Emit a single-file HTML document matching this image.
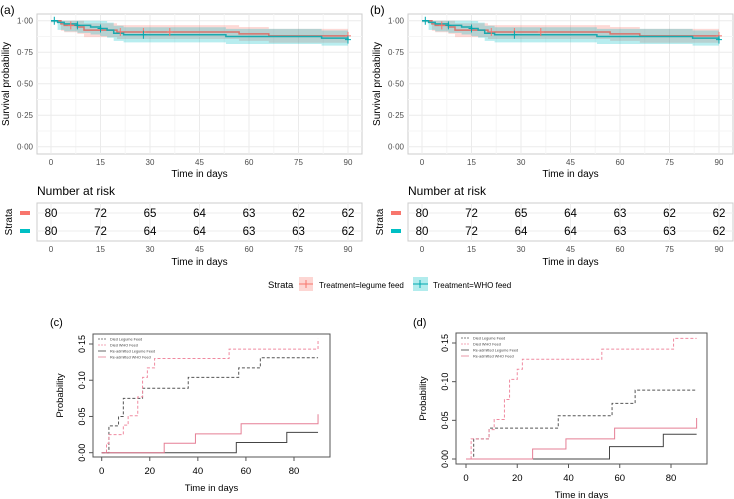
<!DOCTYPE html>
<html><head><meta charset="utf-8"><style>
body{margin:0;background:#fff}
svg{display:block;font-family:"Liberation Sans",sans-serif}
</style></head><body>
<svg id="fig" width="734" height="499" viewBox="0 0 734 499"></svg>
<script>
// ---- KM data (panels a,b) ----
const kmLegTimes=[0,3,4,8,10,20,57,66,90];
const kmLegSurv=[1,0.975,0.963,0.95,0.925,0.91,0.895,0.88,0.88];
const kmWhoTimes=[0,2,4,8,12,15,17,19,22,53,82,90];
const kmWhoSurv=[1,0.987,0.975,0.963,0.95,0.938,0.925,0.9,0.888,0.875,0.862,0.85];
const kmLegCens=[6,21,28,36,90];
const kmWhoCens=[1,8,15,28,90];
const riskTimes=[0,15,30,45,60,75,90];
const riskLeg=[80,72,65,64,63,62,62];
const riskWho=[80,72,64,64,63,63,62];
const xTicksKM=[0,15,30,45,60,75,90];
const yTicksKM=[0,0.25,0.5,0.75,1];
// ---- cumulative incidence (c) ----
const cDiedLegT=[0,3,7,9,17,36,57,66,90];
const cDiedLegV=[0,0.037,0.05,0.075,0.089,0.104,0.117,0.131,0.131];
const cDiedWhoT=[0,2,3,9,11,15,17,19,22,53,90];
const cDiedWhoV=[0,0.013,0.025,0.038,0.051,0.077,0.104,0.117,0.13,0.143,0.157];
const cReLegT=[0,56,77,90];
const cReLegV=[0,0.014,0.028,0.028];
const cReWhoT=[0,26,39,58,90];
const cReWhoV=[0,0.013,0.026,0.04,0.053];
// ---- (d) ----
const dDiedLegT=[0,3,9,36,57,66,90];
const dDiedLegV=[0,0.026,0.04,0.056,0.072,0.089,0.089];
const dDiedWhoT=[0,2,9,11,15,17,20,22,53,81,90];
const dDiedWhoV=[0,0.026,0.038,0.051,0.077,0.103,0.116,0.129,0.142,0.156,0.156];
const dReLegT=[0,56,77,90];
const dReLegV=[0,0.016,0.032,0.032];
const dReWhoT=[0,26,39,58,90];
const dReWhoV=[0,0.013,0.026,0.04,0.053];
const ciXTicks=[0,20,40,60,80];
const ciYTicks=[0,0.05,0.1,0.15];
const ciYLabels=["0·00","0·05","0·10","0·15"];
const legendNames=["Died Legume Feed","Died WHO Feed","Re-admitted Legume Feed","Re-admitted WHO Feed"];

const NS="http://www.w3.org/2000/svg";
const svg=document.getElementById('fig');
function el(tag,attrs,parent,text){const e=document.createElementNS(NS,tag);for(const k in attrs)e.setAttribute(k,attrs[k]);if(text!==undefined)e.textContent=text;(parent||svg).appendChild(e);return e;}
function fmt(v){return v.toFixed(2).replace('.','·');}
function stepPath(T,V,sx,sy){let d='M'+sx(T[0])+','+sy(V[0]);for(let i=1;i<T.length;i++){d+=' H'+sx(T[i])+' V'+sy(V[i]);}return d;}
function bandPath(T,V,w,sx,sy){let up=[],lo=[];for(let i=0;i<T.length;i++){const t2=i<T.length-1?T[i+1]:T[i];const u=Math.min(1,V[i]+w*(i?1:0)),l=V[i]-w*(i?1:0.2);up.push([sx(T[i]),sy(u)],[sx(t2),sy(u)]);lo.push([sx(T[i]),sy(l)],[sx(t2),sy(l)]);}return 'M'+up.map(p=>p.join(',')).join(' L')+' L'+lo.reverse().map(p=>p.join(',')).join(' L')+' Z';}
function survAt(T,V,t){let v=V[0];for(let i=0;i<T.length;i++)if(T[i]<=t)v=V[i];return v;}

function kmPanel(ox,label,lx){
  const g=el('g',{});
  el('text',{x:lx,y:14,'font-size':12,fill:'#000'},g,'('+label+')');
  const L=ox+37,R=ox+362,T=14,B=154;
  const sx=t=>ox+51+t*(297/90), sy=v=>146.7-v*126;
  el('rect',{x:L,y:T,width:R-L,height:B-T,fill:'#fff',stroke:'#ccc','stroke-width':1},g);
  for(let i=0;i<xTicksKM.length;i++){el('line',{x1:sx(xTicksKM[i]),x2:sx(xTicksKM[i]),y1:T,y2:B,stroke:'#ebebeb'},g);if(i<xTicksKM.length-1)el('line',{x1:sx(xTicksKM[i]+7.5),x2:sx(xTicksKM[i]+7.5),y1:T,y2:B,stroke:'#f5f5f5'},g);}
  yTicksKM.forEach((v,i)=>{el('line',{x1:L,x2:R,y1:sy(v),y2:sy(v),stroke:'#ebebeb'},g);if(i<4)el('line',{x1:L,x2:R,y1:sy(v+0.125),y2:sy(v+0.125),stroke:'#f5f5f5'},g);
    const t=el('text',{x:L-4,y:sy(v)+3,'font-size':8,fill:'#4d4d4d','text-anchor':'end'},g,fmt(v));});
  xTicksKM.forEach(v=>{const t=el('text',{x:sx(v),y:B+11,'font-size':8,fill:'#4d4d4d','text-anchor':'middle'},g,String(v));});
  const b1=el('path',{d:bandPath(kmLegTimes,kmLegSurv,0.055,sx,sy),fill:'#f8766d','fill-opacity':0.28},g);
  const b2=el('path',{d:bandPath(kmWhoTimes,kmWhoSurv,0.06,sx,sy),fill:'#00bfc4','fill-opacity':0.28},g);
  const l1=el('path',{d:stepPath(kmLegTimes,kmLegSurv,sx,sy),fill:'none',stroke:'#d9736b','stroke-width':1.5},g);
  const l2=el('path',{d:stepPath(kmWhoTimes,kmWhoSurv,sx,sy),fill:'none',stroke:'#1aa9ae','stroke-width':1.5},g);
  kmLegCens.forEach(t=>{const y=sy(survAt(kmLegTimes,kmLegSurv,t));el('path',{d:`M${sx(t)-3},${y}h6M${sx(t)},${y-4}v8`,stroke:'#f8766d','stroke-width':1},g);});
  kmWhoCens.forEach(t=>{const y=sy(survAt(kmWhoTimes,kmWhoSurv,t));el('path',{d:`M${sx(t)-3},${y}h6M${sx(t)},${y-4}v8`,stroke:'#00a9b0','stroke-width':1},g);});
  el('text',{x:(L+R)/2,y:177,'font-size':10,'text-anchor':'middle',fill:'#000'},g,'Time in days');
  el('text',{x:0,y:0,'font-size':10,'text-anchor':'middle',transform:`translate(${ox+9},${84}) rotate(-90)`},g,'Survival probability');
  el('text',{x:L,y:195,'font-size':12,fill:'#000'},g,'Number at risk');
  el('rect',{x:L,y:203,width:R-L,height:38,fill:'#fff',stroke:'#ccc'},g);
  riskTimes.forEach(t=>{el('line',{x1:sx(t),x2:sx(t),y1:203,y2:241,stroke:'#eee'},g);});
  el('line',{x1:L,x2:R,y1:213,y2:213,stroke:'#eee'},g);el('line',{x1:L,x2:R,y1:231,y2:231,stroke:'#eee'},g);
  riskTimes.forEach((t,i)=>{
    const a=el('text',{x:sx(t),y:217,'font-size':11.5,'text-anchor':'middle',fill:'#000'},g,String(riskLeg[i]));
    const b=el('text',{x:sx(t),y:235,'font-size':11.5,'text-anchor':'middle',fill:'#000'},g,String(riskWho[i]));
    const c=el('text',{x:sx(t),y:252,'font-size':8,'text-anchor':'middle',fill:'#4d4d4d'},g,String(t));
  });
  el('rect',{x:ox+20,y:211,width:10,height:4,fill:'#f8766d'},g);
  el('rect',{x:ox+20,y:229,width:10,height:4,fill:'#00bfc4'},g);
  el('text',{x:0,y:0,'font-size':10,'text-anchor':'middle',transform:`translate(${ox+12},222) rotate(-90)`},g,'Strata');
  el('text',{x:(L+R)/2,y:265,'font-size':10,'text-anchor':'middle'},g,'Time in days');
}
kmPanel(0,'a',0);
kmPanel(371,'b',370);

const lg=el('g',{});
el('text',{x:268,y:288,'font-size':9.5},lg,'Strata');
el('rect',{x:299,y:277,width:14,height:14,fill:'#f8766d','fill-opacity':0.3},lg);
el('path',{d:'M299,284h14M306,280v8',stroke:'#f8766d'},lg);
el('text',{x:319,y:288,'font-size':8},lg,'Treatment=legume feed');
el('rect',{x:413,y:277,width:15,height:14,fill:'#00bfc4','fill-opacity':0.3},lg);
el('path',{d:'M413,284h15M420,280v8',stroke:'#00a9b0'},lg);
el('text',{x:433,y:288,'font-size':8},lg,'Treatment=WHO feed');

function ciPanel(label,box,x0,x80,y0,y15,series){
  const g=el('g',{});
  const sx=t=>x0+t*(x80-x0)/80, sy=v=>y0-v*(y0-y15)/0.15;
  el('text',{x:box[0]-43,y:326,'font-size':11},g,'('+label+')');
  el('rect',{x:box[0],y:box[1],width:box[2]-box[0],height:box[3]-box[1],fill:'none',stroke:'#555','stroke-width':1},g);
  ciXTicks.forEach(v=>{el('line',{x1:sx(v),x2:sx(v),y1:box[3],y2:box[3]+4,stroke:'#555'},g);const t=el('text',{x:sx(v),y:box[3]+17,'font-size':9.5,'text-anchor':'middle'},g,String(v));});
  ciYTicks.forEach((v,i)=>{el('line',{x1:box[0]-4,x2:box[0],y1:sy(v),y2:sy(v),stroke:'#555'},g);const t=el('text',{x:0,y:0,'font-size':9,'text-anchor':'middle',transform:`translate(${box[0]-8},${sy(v)}) rotate(-90)`},g,ciYLabels[i]);});
  el('text',{x:(box[0]+box[2])/2,y:box[3]+34,'font-size':9.5,'text-anchor':'middle'},g,'Time in days');
  el('text',{x:0,y:0,'font-size':9.5,'text-anchor':'middle',transform:`translate(${box[0]-30},${(box[1]+box[3])/2}) rotate(-90)`},g,'Probability');
  const styles=[['#555','3,2'],['#f08aa0','3,2'],['#444',''],['#e57f95','']];
  const names=['died-legume','died-who','readmitted-legume','readmitted-who'];
  series.forEach((s,i)=>{const p=el('path',{d:stepPath(s[0],s[1],sx,sy),fill:'none',stroke:styles[i][0],'stroke-width':1,'stroke-dasharray':styles[i][1]},g);});
  legendNames.forEach((n,i)=>{const y=box[1]+5+i*6;el('line',{x1:box[0]+5,x2:box[0]+13,y1:y,y2:y,stroke:styles[i][0],'stroke-width':0.8,'stroke-dasharray':styles[i][1]?'2,1':''},g);const t=el('text',{x:box[0]+17,y:y+1.5,'font-size':3.8,fill:'#444'},g,n);});
}
ciPanel('c',[93,334,330,457],101.7,294,452.7,344,[[cDiedLegT,cDiedLegV],[cDiedWhoT,cDiedWhoV],[cReLegT,cReLegV],[cReWhoT,cReWhoV]]);
ciPanel('d',[456,333,707,464],466,671,459,343,[[dDiedLegT,dDiedLegV],[dDiedWhoT,dDiedWhoV],[dReLegT,dReLegV],[dReWhoT,dReWhoV]]);
</script>
</body></html>
